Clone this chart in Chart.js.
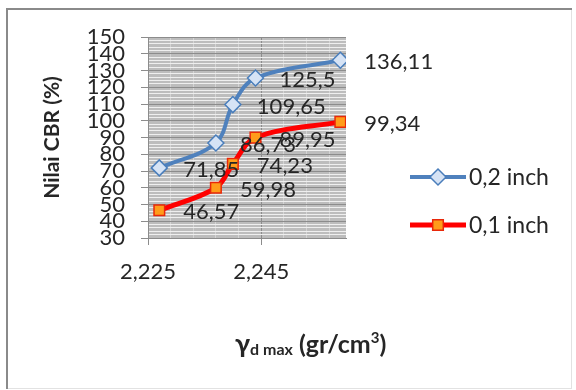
<!DOCTYPE html>
<html>
<head>
<meta charset="utf-8">
<script src="https://cdn.jsdelivr.net/npm/chart.js@4/dist/chart.umd.min.js"></script>
<style>
  html, body { margin: 0; padding: 0; background: #fff; }
  #wrap { width: 576px; height: 390px; }
</style>
</head>
<body>
<div id="wrap"><canvas id="cbrChart" width="576" height="390"></canvas></div>
<script>
// Data
const seriesNames = ["0,2 inch", "0,1 inch"];
const xValues = [2.227, 2.237, 2.240, 2.244, 2.259];
const cbr02 = [71.85, 86.73, 109.65, 125.5, 136.11];
const cbr01 = [46.57, 59.98, 74.23, 89.95, 99.34];
const xMajorTicks = [2.225, 2.245];
const yMajorTicks = [30, 40, 50, 60, 70, 80, 90, 100, 110, 120, 130, 140, 150];

const FONT = "Lato, 'Open Sans', sans-serif";
const TXT = "#262626";

function fmt(v) {
  return String(v).replace(".", ",");
}
function isMajor(list, v) {
  return list.some(m => Math.abs(m - v) < 1e-7);
}

// fundo, moldura e fundo da área do gráfico
const backgroundPlugin = {
  id: "background",
  beforeDraw(chart) {
    const ctx = chart.ctx;
    const a = chart.chartArea;
    ctx.save();
    ctx.fillStyle = "#ffffff";
    ctx.fillRect(0, 0, chart.width, chart.height);
    ctx.strokeStyle = "#e2e2e2";
    ctx.lineWidth = 1;
    ctx.strokeRect(7.5, 9.5, 564, 379);
    ctx.strokeStyle = "#8a8a8a";
    ctx.lineWidth = 2;
    ctx.beginPath();
    ctx.moveTo(7, 389);
    ctx.lineTo(7, 9);
    ctx.lineTo(572, 9);
    ctx.stroke();
    ctx.fillStyle = "#bdbdbd";
    ctx.fillRect(a.left, a.top, a.right - a.left, a.bottom - a.top);
    ctx.restore();
  }
};

// rótulos de dados à direita de cada ponto
const labelPlugin = {
  id: "pointLabels",
  afterDatasetsDraw(chart) {
    const ctx = chart.ctx;
    ctx.save();
    ctx.font = "22px " + FONT;
    ctx.fillStyle = TXT;
    ctx.textAlign = "left";
    ctx.textBaseline = "middle";
    chart.data.datasets.forEach((ds, i) => {
      chart.getDatasetMeta(i).data.forEach((pt, j) => {
        ctx.fillText(fmt(ds.data[j].y), pt.x + 24, pt.y + 2);
      });
    });
    ctx.restore();
  }
};

// legenda estilo Excel (linha + marcador)
const legendPlugin = {
  id: "excelLegend",
  afterDraw(chart) {
    const ctx = chart.ctx;
    const rows = [177, 225];
    chart.data.datasets.forEach((ds, i) => {
      const y = rows[i];
      ctx.save();
      ctx.strokeStyle = ds.borderColor;
      ctx.lineWidth = ds.borderWidth;
      ctx.beginPath();
      ctx.moveTo(410, y);
      ctx.lineTo(466, y);
      ctx.stroke();
      ctx.fillStyle = ds.pointBackgroundColor;
      ctx.strokeStyle = ds.pointBorderColor;
      ctx.lineWidth = ds.pointBorderWidth;
      Chart.helpers.drawPoint(ctx, {
        pointStyle: ds.pointStyle,
        radius: ds.pointRadius,
        borderWidth: ds.pointBorderWidth,
        rotation: 0
      }, 438, y);
      ctx.font = "23px " + FONT;
      ctx.fillStyle = TXT;
      ctx.textBaseline = "middle";
      ctx.fillText(ds.label, 469, y + 1);
      ctx.restore();
    });
  }
};

// título do eixo x com subscrito e sobrescrito
const xTitlePlugin = {
  id: "xTitle",
  afterDraw(chart) {
    const ctx = chart.ctx;
    const parts = [
      { t: "γ", f: "bold 27px " + FONT, dy: 0 },
      { t: "d max", f: "bold 16px " + FONT, dy: 2 },
      { t: " (gr/cm", f: "bold 25px " + FONT, dy: 0 },
      { t: "3", f: "bold 15px " + FONT, dy: -10 },
      { t: ")", f: "bold 25px " + FONT, dy: 0 }
    ];
    let x = 235;
    const base = 353;
    ctx.save();
    ctx.fillStyle = TXT;
    ctx.textBaseline = "alphabetic";
    parts.forEach(p => {
      ctx.font = p.f;
      ctx.fillText(p.t, x, base + p.dy);
      x += ctx.measureText(p.t).width;
    });
    ctx.restore();
  }
};

const ctx = document.getElementById("cbrChart").getContext("2d");

const datasets = [
  {
    label: seriesNames[0],
    data: xValues.map((x, i) => ({ x: x, y: cbr02[i] })),
    borderColor: "#4f81bd",
    borderWidth: 4,
    pointStyle: "rectRot",
    pointRadius: 8,
    pointBackgroundColor: "#d6e3f5",
    pointBorderColor: "#4a7ebb",
    pointBorderWidth: 1.5,
    tension: 0.35,
    showLine: true
  },
  {
    label: seriesNames[1],
    data: xValues.map((x, i) => ({ x: x, y: cbr01[i] })),
    borderColor: "#ff0000",
    borderWidth: 5,
    pointStyle: "rect",
    pointRadius: 7.5,
    pointBackgroundColor: "#ff9c1a",
    pointBorderColor: "#e8280a",
    pointBorderWidth: 1.5,
    tension: 0.35,
    showLine: true
  }
];

const myChart = new Chart(ctx, {
  type: "scatter",
  data: { datasets: datasets },
  options: {
    responsive: false,
    animation: false,
    layout: { padding: { left: 0, right: 230, top: 37, bottom: 0 } },
    plugins: { legend: { display: false }, tooltip: { enabled: false } },
    scales: {
      x: {
        type: "linear",
        min: 2.225,
        max: 2.26,
        afterBuildTicks(scale) {
          const t = [];
          for (let v = 2.225; v < 2.2595; v += 0.004) t.push({ value: +v.toFixed(4) });
          scale.ticks = t;
        },
        afterFit(scale) { scale.height = 152; },
        grid: {
          color: c => isMajor(xMajorTicks, c.tick.value) ? "#8c8c8c" : "#d4d4d4",
          tickColor: c => isMajor(xMajorTicks, c.tick.value) ? "#8c8c8c" : "rgba(0,0,0,0)",
          tickLength: 7,
          lineWidth: 1
        },
        border: { color: "#8c8c8c" },
        ticks: {
          autoSkip: false,
          maxRotation: 0,
          padding: 14,
          color: TXT,
          font: { family: FONT, size: 22 },
          callback: v => isMajor(xMajorTicks, v) ? v.toFixed(3).replace(".", ",") : ""
        }
      },
      y: {
        min: 30,
        max: 150,
        afterBuildTicks(scale) {
          const t = [];
          for (let v = 30; v <= 150; v += 2) t.push({ value: v });
          scale.ticks = t;
        },
        afterFit(scale) { scale.width = 148; },
        grid: {
          color: c => isMajor(yMajorTicks, c.tick.value) ? "#8c8c8c" : "#efefef",
          tickColor: c => isMajor(yMajorTicks, c.tick.value) ? "#8c8c8c" : "rgba(0,0,0,0)",
          tickLength: 7,
          lineWidth: 1
        },
        border: { color: "#8c8c8c" },
        title: {
          display: true,
          text: "Nilai CBR (%)",
          color: TXT,
          font: { family: FONT, size: 21, weight: "bold" },
          padding: { top: 40, bottom: 0 }
        },
        ticks: {
          autoSkip: false,
          padding: 16,
          color: TXT,
          font: { family: FONT, size: 22 },
          callback: v => isMajor(yMajorTicks, v) ? String(v) : ""
        }
      }
    }
  },
  plugins: [backgroundPlugin, labelPlugin, legendPlugin, xTitlePlugin]
});
</script>
</body>
</html>
